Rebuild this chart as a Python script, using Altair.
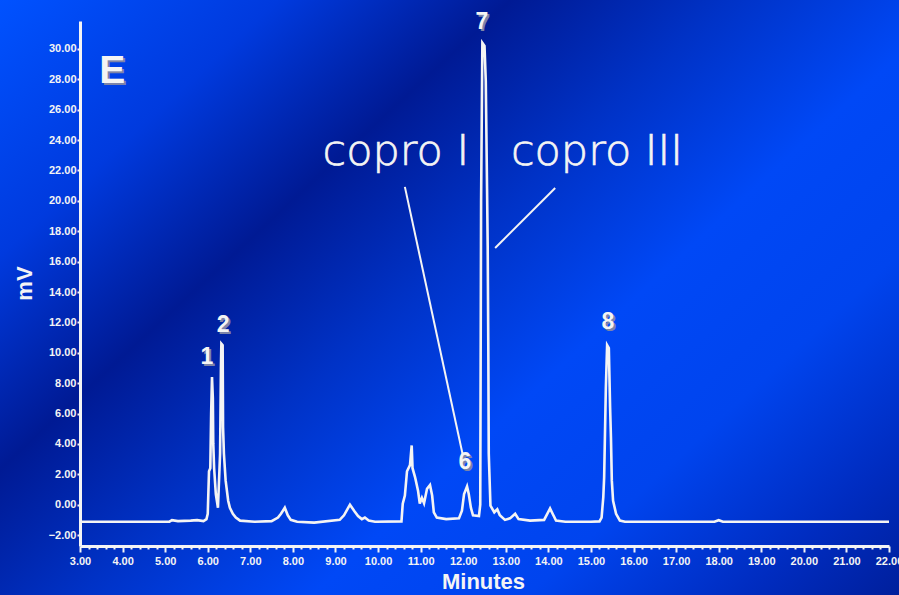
import altair as alt
import pandas as pd

# Chromatogram trace (retention time in minutes, detector signal in mV)
times = [
    3.00, 5.10, 5.16, 5.30, 5.60, 5.75, 5.90, 5.97, 6.00, 6.03, 6.06, 6.08,
    6.10, 6.12, 6.13, 6.15, 6.19, 6.24, 6.29, 6.31, 6.32, 6.35, 6.36, 6.38,
    6.42, 6.48, 6.52, 6.59, 6.66, 6.76, 7.10, 7.50, 7.65, 7.72, 7.81, 7.88,
    7.95, 8.10, 8.50, 9.10, 9.20, 9.34, 9.45, 9.53, 9.62, 9.69, 9.78, 9.93,
    10.55, 10.58, 10.63, 10.68, 10.75, 10.79, 10.81, 10.87, 10.94, 10.98,
    11.03, 11.08, 11.15, 11.22, 11.27, 11.31, 11.38, 11.60, 11.90, 11.97,
    12.02, 12.09, 12.13, 12.18, 12.23, 12.37, 12.40, 12.42, 12.45, 12.50,
    12.53, 12.56, 12.575, 12.59, 12.60, 12.64, 12.73, 12.80, 12.86, 12.98,
    13.10, 13.22, 13.30, 13.57, 13.90, 14.04, 14.10, 14.18, 14.40, 15.00,
    15.20, 15.25, 15.29, 15.31, 15.35, 15.38, 15.42, 15.45, 15.47, 15.49,
    15.52, 15.59, 15.68, 15.80, 17.90, 18.00, 18.10, 22.00,
]
signal = [
    -1.12, -1.12, -1.02, -1.08, -1.05, -1.02, -1.08, -0.95, -0.6, 2.2, 2.4, 6.0,
    8.4, 7.0, 4.0, 2.4, 0.7, -0.2, 3.35, 9.0, 10.6, 10.5, 5.1, 3.35,
    1.6, 0.26, -0.2, -0.6, -0.85, -1.05, -1.12, -1.08, -0.85, -0.6, -0.2, -0.7,
    -1.0, -1.12, -1.18, -1.0, -0.7, 0.0, -0.45, -0.75, -0.95, -0.85, -1.05, -1.12,
    -1.1, 0.07, 0.6, 2.2, 2.6, 3.9, 2.4, 1.8, 0.9, 0.07,
    0.45, 0.1, 1.05, 1.3, 0.6, -0.5, -0.85, -0.95, -0.9, -0.4,
    0.7, 1.2, 0.7, -0.2, -0.7, -0.75, 0.0, 20.0, 30.4, 30.2,
    27.9, 20.8, 17.0, 10.0, 3.35, -0.07, -0.5, -0.3, -0.7, -1.0,
    -0.9, -0.6, -0.95, -1.05, -1.0, -0.25, -0.6, -1.05, -1.12, -1.12,
    -1.1, -0.85, 0.5, 1.8, 7.7, 10.5, 10.3, 6.4, 4.4, 1.6,
    0.26, -0.6, -1.05, -1.12, -1.12, -1.02, -1.12, -1.12,
]

# Peak numbers
peak_labels = ["1", "2", "6", "7", "8"]
peak_t = [5.98, 6.36, 12.04, 12.44, 15.40]
peak_v = [9.72, 11.83, 2.81, 31.78, 12.03]

# Compound callouts and their pointer lines
callout_text = ["copro I", "copro III"]
callout_t = [10.42, 15.14]
callout_v = [22.36, 22.36]
pointer_t1 = [10.63, 14.16]
pointer_v1 = [20.92, 20.85]
pointer_t2 = [11.99, 12.75]
pointer_v2 = [3.27, 16.90]

# Panel letter
panel_text = ["E"]
panel_t = [3.76]
panel_v = [28.55]

x_major = [float(v) for v in range(3, 23)]
x_ticks = sorted(set(x_major + [round(3 + i * 0.2, 1) for i in range(96)]))
y_ticks = list(range(-2, 31, 2))

trace = pd.DataFrame({"t": times, "mV": signal})
peaks = pd.DataFrame({"label": peak_labels, "t": peak_t, "mV": peak_v})
callouts = pd.DataFrame({"label": callout_text, "t": callout_t, "mV": callout_v})
pointers = pd.DataFrame({"t": pointer_t1, "mV": pointer_v1, "t2": pointer_t2, "mV2": pointer_v2})
panel = pd.DataFrame({"label": panel_text, "t": panel_t, "mV": panel_v})

X_DOM = [3, 22]
Y_DOM = [-2.72, 31.84]
WHITE = "#f4f4f4"
SHADOW = "#7d84a8"
FONT = "Liberation Sans"

x_scale = alt.Scale(domain=X_DOM, nice=False, zero=False)
y_scale = alt.Scale(domain=Y_DOM, nice=False, zero=False)

x_axis = alt.Axis(
    values=x_ticks,
    tickCount=500,
    labelExpr="datum.value % 1 === 0 ? format(datum.value, '.2f') : ''",
    labelOverlap=False,
    labelFlush=False,
    labelBound=False,
    tickSize={"condition": {"test": "datum.value % 1 === 0", "value": 6}, "value": 3},
    tickColor=WHITE,
    tickWidth=2,
    domainColor=WHITE,
    domainWidth=3,
    labelColor=WHITE,
    labelFont=FONT,
    labelFontWeight="bold",
    labelFontSize=11,
    labelPadding=3,
    grid=False,
    title="Minutes",
    titleColor=WHITE,
    titleFont=FONT,
    titleFontWeight="bold",
    titleFontSize=22,
    titleX=403,
    titleY=35,
    titleAlign="center",
    titleBaseline="middle",
    zindex=1,
)

y_axis = alt.Axis(
    values=y_ticks,
    tickCount=500,
    format=".2f",
    labelOverlap=False,
    labelFlush=False,
    labelBound=False,
    tickSize=3,
    tickColor=WHITE,
    tickWidth=2,
    domainColor=WHITE,
    domainWidth=3,
    labelColor=WHITE,
    labelFont=FONT,
    labelFontWeight="bold",
    labelFontSize=11,
    labelPadding=1,
    grid=False,
    title="mV",
    titleColor=WHITE,
    titleFont=FONT,
    titleFontWeight="bold",
    titleFontSize=22,
    titleAngle=-90,
    titleX=-56,
    titleY=262,
    titleAlign="center",
    titleBaseline="middle",
    zindex=1,
)

# Diagonal blue backdrop with a dark band
backdrop_fill = {
    "gradient": "linear",
    "x1": 0, "y1": 0, "x2": 1.133, "y2": 0.816,
    "stops": [
        {"offset": 0.0, "color": "#0052ff"},
        {"offset": 0.18, "color": "#003ade"},
        {"offset": 0.33, "color": "#001a94"},
        {"offset": 0.47, "color": "#0032c6"},
        {"offset": 0.62, "color": "#0048f6"},
        {"offset": 0.76, "color": "#0044ee"},
        {"offset": 0.9, "color": "#002cc0"},
        {"offset": 1.0, "color": "#001f9c"},
    ],
}
backdrop = alt.Chart(pd.DataFrame({"k": [0]})).mark_rect(
    fill=backdrop_fill, strokeWidth=0
).encode(
    x=alt.value(-80), x2=alt.value(819), y=alt.value(-21), y2=alt.value(574)
)

xs = alt.X("t:Q", scale=x_scale)
ys = alt.Y("mV:Q", scale=y_scale)

line = alt.Chart(trace).mark_line(
    color=WHITE, strokeWidth=2.6, strokeJoin="miter", interpolate="linear"
).encode(
    x=alt.X("t:Q", scale=x_scale, axis=x_axis),
    y=alt.Y("mV:Q", scale=y_scale, axis=y_axis),
)

pointer_rules = alt.Chart(pointers).mark_rule(color=WHITE, strokeWidth=2).encode(
    x=xs, y=ys, x2="t2:Q", y2="mV2:Q",
)

callout_marks = alt.Chart(callouts).mark_text(
    color=WHITE, font="DejaVu Sans", fontWeight=200, fontSize=43,
    stroke=WHITE, strokeWidth=0.7,
    align="center", baseline="alphabetic",
).encode(x=xs, y=ys, text="label:N")


def shadowed(df, size):
    base = alt.Chart(df).encode(x=xs, y=ys, text="label:N")
    shade = base.mark_text(
        color=SHADOW, font=FONT, fontWeight="bold", fontSize=size,
        align="center", baseline="middle", dx=2, dy=2,
    )
    face = base.mark_text(
        color=WHITE, font=FONT, fontWeight="bold", fontSize=size,
        align="center", baseline="middle",
    )
    return shade + face


chart = alt.layer(
    backdrop,
    line,
    pointer_rules,
    callout_marks,
    shadowed(peaks, 23),
    shadowed(panel, 39),
).properties(
    width=809,
    height=525,
    autosize=alt.AutoSizeParams(type="none"),
    padding={"left": 80, "top": 21, "right": 10, "bottom": 49},
    background="#0036cc",
).configure_view(stroke=None).configure_axis(labelOverlap=False)

chart.save("out.html", embed_options={"renderer": "svg", "actions": False})
